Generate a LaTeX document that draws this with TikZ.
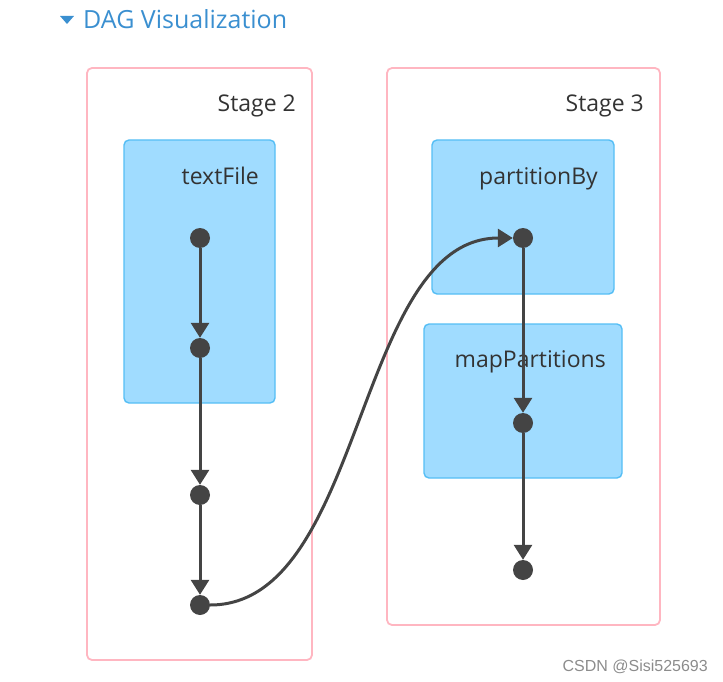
\documentclass[tikz,border=0pt]{standalone}
\usepackage{fontspec}
\setmainfont{Open Sans}
\newfontfamily\wmfont{Liberation Sans}
\usetikzlibrary{arrows.meta}
\definecolor{titleblue}{HTML}{3A8FD0}
\definecolor{stagepink}{HTML}{FFB6C1}
\definecolor{opfill}{HTML}{A0DCFF}
\definecolor{opdraw}{HTML}{55BEF5}
\definecolor{dotgray}{HTML}{444444}
\tikzset{
  stagebox/.style={draw=stagepink, line width=1.8pt, rounded corners=5pt},
  opbox/.style={draw=opdraw, fill=opfill, line width=1.4pt, rounded corners=5pt},
  lbl/.style={font=\fontsize{23}{26}\selectfont, text=black!80, anchor=base east, inner sep=0pt},
  dot/.style={circle, fill=dotgray, minimum size=20pt, inner sep=0pt},
  edge/.style={draw=dotgray, line width=3pt, -{Triangle[length=15pt,width=18pt]}},
}
\begin{document}
\begin{tikzpicture}[x=1pt,y=-1pt]
\useasboundingbox (0,0) rectangle (723,682);
% title
\fill[titleblue] (60,16) -- (74,16) -- (67,24) -- cycle;
\node[anchor=base west, inner sep=0pt, text=titleblue, font=\fontsize{25}{28}\selectfont] (title) at (83,29) {DAG Visualization};
% stages
\draw[stagebox] (87,68) rectangle (312,660);
\draw[stagebox] (387,68) rectangle (660,625);
\node[lbl] (s2) at (296,112) {Stage 2};
\node[lbl] (s3) at (644,112) {Stage 3};
% op boxes
\draw[opbox] (124,140) rectangle (275,403);
\draw[opbox] (432,140) rectangle (614,294);
\draw[opbox] (424,324) rectangle (622,478);
\node[lbl] (l1) at (259,184) {textFile};
\node[lbl] (l2) at (598,184) {partitionBy};
\node[lbl] (l3) at (606,367) {mapPartitions};
% dots
\node[dot] (a1) at (200,238) {};
\node[dot] (a2) at (200,348) {};
\node[dot] (a3) at (200,495) {};
\node[dot] (a4) at (200,605) {};
\node[dot] (b1) at (523,238) {};
\node[dot] (b2) at (523,423) {};
\node[dot] (b3) at (523,570) {};
% edges
\draw[edge] (a1) -- (a2);
\draw[edge] (a2) -- (a3);
\draw[edge] (a3) -- (a4);
\draw[edge] (a4.east) .. controls (365,605) and (355,238) .. (b1.west);
\draw[edge] (b1) -- (b2);
\draw[edge] (b2) -- (b3);
% watermark
\node[anchor=base east, inner sep=0pt, text=black!45, font=\wmfont\fontsize{16}{18}\selectfont] (wm) at (708,671) {CSDN @Sisi525693};
\end{tikzpicture}
\end{document}
